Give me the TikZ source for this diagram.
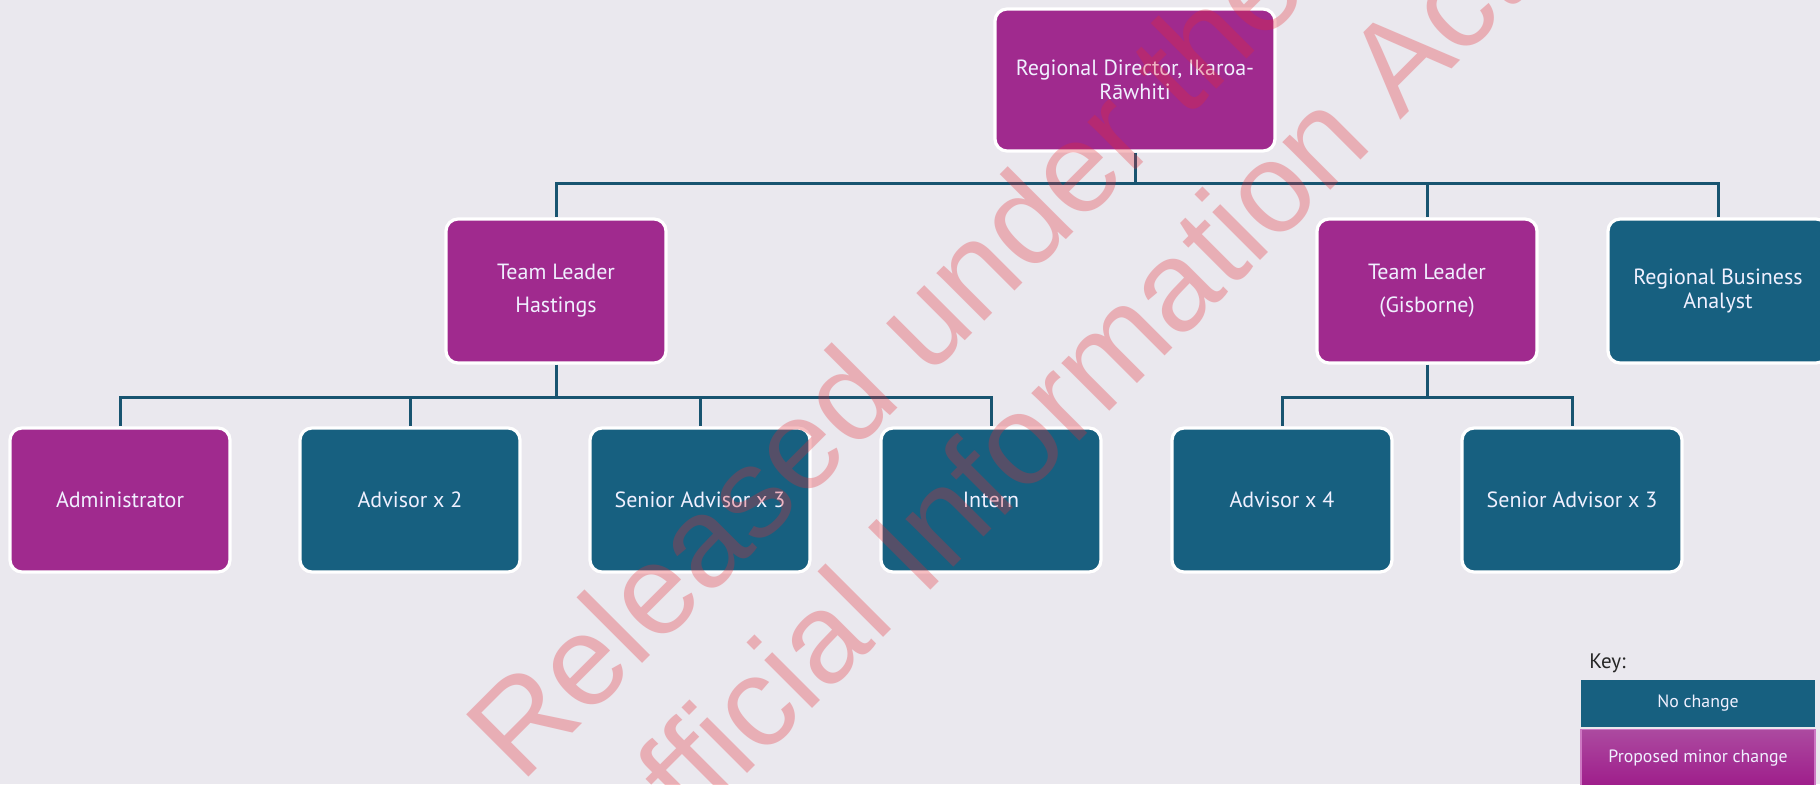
\documentclass[tikz,border=0pt]{standalone}
\usepackage{fontspec}
\setmainfont{PT Sans}
\newfontfamily\wmfont{Liberation Sans}

\definecolor{pagebg}{RGB}{234,232,238}
\definecolor{nochg}{RGB}{23,96,128}
\definecolor{minorchg}{RGB}{160,42,142}
\definecolor{linecol}{RGB}{24,84,112}
\definecolor{wmred}{RGB}{230,40,50}
\definecolor{keytop}{RGB}{172,74,160}
\definecolor{keybot}{RGB}{158,28,138}
\definecolor{keyedge}{RGB}{205,120,195}

\tikzset{
  role/.style={draw=white, line width=1.6pt, rounded corners=6pt, text=white!94!blue,
    align=center, minimum width=110pt, minimum height=72pt, inner sep=2pt,
    font=\fontsize{11}{12}\selectfont},
  same/.style={role, fill=nochg},
  minor/.style={role, fill=minorchg},
  link/.style={draw=linecol, line width=1.5pt},
  keybox/.style={minimum width=117pt, inner sep=0pt, text=white!94!blue,
    font=\fontsize{8.9}{10}\selectfont},
  wm/.style={rotate=45, inner sep=0pt, text=wmred, text opacity=0.3,
    font=\wmfont\fontsize{64}{64}\selectfont},
}

\begin{document}
\begin{tikzpicture}[x=0.5pt,y=-0.5pt]
\clip (0,0) rectangle (1820,784);
\useasboundingbox (0,0) rectangle (1820,784);
\fill[pagebg] (0,0) rectangle (1820,784);

% top
\node[minor, minimum width=140pt, minimum height=71pt] (rd) at (1135,80) {Regional Director, Ikaroa-\\Rāwhiti};

% team leaders and analyst
\node[minor] (tlh) at (556,291) {Team Leader\\[4.5pt]Hastings};
\node[minor] (tlg) at (1427,291) {Team Leader\\[4.5pt](Gisborne)};
\node[same] (rba) at (1718,291) {Regional Business\\Analyst};

% staff
\node[minor] (adm) at (120,500) {Administrator};
\node[same] (adv2) at (410,500) {Advisor x 2};
\node[same] (sadvh) at (700,500) {Senior Advisor x 3};
\node[same] (intern) at (991,500) {Intern};
\node[same] (adv4) at (1282,500) {Advisor x 4};
\node[same] (sadvg) at (1572,500) {Senior Advisor x 3};

% lines
\coordinate (bustop) at (1135,183);
\coordinate (bush) at (556,397);
\coordinate (busg) at (1427,397);
\draw[link] (rd.south) -- (bustop);
\foreach \n in {tlh,tlg,rba}
  \draw[link] (bustop) -| (\n.north);
\draw[link] (tlh.south) -- (bush);
\foreach \n in {adm,adv2,sadvh,intern}
  \draw[link] (bush) -| (\n.north);
\draw[link] (tlg.south) -- (busg);
\foreach \n in {adv4,sadvg}
  \draw[link] (busg) -| (\n.north);

% key
\node[anchor=base west, inner sep=0pt, text=black!85, font=\fontsize{10.5}{12}\selectfont] (keylbl) at (1589,668) {Key:};
\node[keybox, fill=nochg, minimum height=23.5pt] (keyno) at (1698,703.5) {No change};
\node[keybox, draw=keyedge, line width=0.6pt, top color=keytop, bottom color=keybot, minimum height=29pt] (keyprop) at (1698,758.5) {Proposed minor change};

% watermark
\node[wm, anchor=base west] (wm1) at (521,785) {Released under the};
\node[wm, anchor=base west] (wm2) at (622,899) {Official Information Act};
\end{tikzpicture}
\end{document}
